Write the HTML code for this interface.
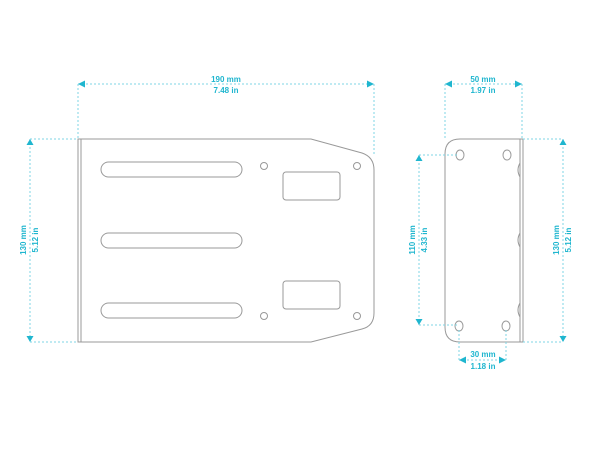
<!DOCTYPE html>
<html><head><style>body{margin:0;background:#fff}svg{display:block}</style></head>
<body>
<svg width="600" height="450" viewBox="0 0 600 450" xmlns="http://www.w3.org/2000/svg" font-family="Liberation Sans, sans-serif">
<g fill="none" stroke="#999" stroke-width="1">
<path d="M78 139 H311 L362 153 Q374 157 374 170 V313 Q374 326 362 329 L311 342 H78 Z"/>
<line x1="81" y1="139" x2="81" y2="342"/>
<rect x="101" y="162" width="141" height="15" rx="7.5"/>
<rect x="101" y="233" width="141" height="15" rx="7.5"/>
<rect x="101" y="303" width="141" height="15" rx="7.5"/>
<circle cx="264" cy="166" r="3.5"/><circle cx="357" cy="166" r="3.5"/>
<circle cx="264" cy="316" r="3.5"/><circle cx="357" cy="316" r="3.5"/>
<rect x="283" y="172" width="57" height="28" rx="3"/>
<rect x="283" y="281" width="57" height="28" rx="3"/>
<path d="M523 139 H460 Q445 139 445 154 V327 Q445 342 460 342 H523 Z"/>
<line x1="520" y1="139" x2="520" y2="342"/>
<path d="M520 163 Q516 170 520 177 M520 233 Q516 240 520 247 M520 303 Q516 310 520 317"/>
<ellipse cx="460" cy="155" rx="4" ry="5"/><ellipse cx="507" cy="155" rx="4" ry="5"/>
<ellipse cx="459" cy="326" rx="4" ry="5"/><ellipse cx="506" cy="326" rx="4" ry="5"/>
</g>
<g stroke="#7fd6e6" stroke-width="1" stroke-dasharray="2,2" fill="none">
<line x1="78" y1="84" x2="374" y2="84"/><line x1="78" y1="84" x2="78" y2="139"/><line x1="374" y1="84" x2="374" y2="155"/>
<line x1="30" y1="139" x2="30" y2="342"/><line x1="30" y1="139" x2="78" y2="139"/><line x1="30" y1="342" x2="78" y2="342"/>
<line x1="445" y1="84" x2="522" y2="84"/><line x1="445" y1="84" x2="445" y2="139"/><line x1="522" y1="84" x2="522" y2="139"/>
<line x1="419" y1="155" x2="419" y2="325"/><line x1="419" y1="155" x2="458" y2="155"/><line x1="419" y1="325" x2="458" y2="325"/>
<line x1="563" y1="139" x2="563" y2="342"/><line x1="523" y1="139" x2="563" y2="139"/><line x1="523" y1="342" x2="563" y2="342"/>
<line x1="459" y1="360" x2="506" y2="360"/><line x1="459" y1="330" x2="459" y2="360"/><line x1="506" y1="330" x2="506" y2="360"/>
</g>
<g fill="#1fb6cf">
<path d="M78 84 l7 -3.5 v7z"/><path d="M374 84 l-7 -3.5 v7z"/>
<path d="M30 139 l-3.5 6 h7z"/><path d="M30 342 l-3.5 -6 h7z"/>
<path d="M445 84 l7 -3.5 v7z"/><path d="M522 84 l-7 -3.5 v7z"/>
<path d="M419 155 l-3.5 6 h7z"/><path d="M419 325 l-3.5 -6 h7z"/>
<path d="M563 139 l-3.5 6 h7z"/><path d="M563 342 l-3.5 -6 h7z"/>
<path d="M459 360 l7 -3.5 v7z"/><path d="M506 360 l-7 -3.5 v7z"/>
</g>
<g fill="#1fb6cf" font-size="8" font-weight="bold" text-anchor="middle">
<text x="226" y="82">190 mm</text><text x="226" y="93">7.48 in</text>
<text x="483" y="82">50 mm</text><text x="483" y="93">1.97 in</text>
<text x="483" y="357">30 mm</text><text x="483" y="369">1.18 in</text>
<text transform="translate(26,240) rotate(-90)">130 mm</text>
<text transform="translate(38,240) rotate(-90)">5.12 in</text>
<text transform="translate(415,240) rotate(-90)">110 mm</text>
<text transform="translate(427,240) rotate(-90)">4.33 in</text>
<text transform="translate(559,240) rotate(-90)">130 mm</text>
<text transform="translate(571,240) rotate(-90)">5.12 in</text>
</g>
</svg>
</body></html>
